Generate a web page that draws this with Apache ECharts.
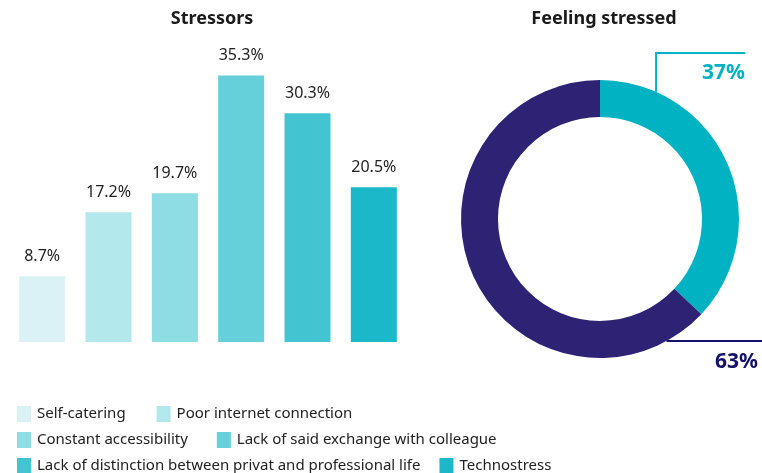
<!DOCTYPE html>
<html>
<head>
<meta charset="utf-8">
<script src="https://cdn.jsdelivr.net/npm/echarts@6/dist/echarts.min.js"></script>
<style>
  html, body { margin: 0; padding: 0; background: #ffffff; }
  #chart { width: 762px; height: 473px; }
</style>
</head>
<body>
<div id="chart"></div>
<script>
// Stressors (share of respondents, %)
const stressorNames = [
  'Self-catering',
  'Poor internet connection',
  'Constant accessibility',
  'Lack of said exchange with colleague',
  'Lack of distinction between privat and professional life',
  'Technostress'
];
const stressorValues = [8.7, 17.2, 19.7, 35.3, 30.3, 20.5];
const stressorColors = ['#daf2f5', '#b3e8ec', '#8fdde4', '#66d0da', '#42c5d1', '#1ab8c8'];

// Feeling stressed (%)
const stressedNames = ['Stressed', 'Not stressed'];
const stressedValues = [37, 63];
const stressedColors = ['#00b2c2', '#2e2275'];
const stressedLabelColors = ['#00b2c2', '#15106b'];

const FONT = 'Noto Sans';
const pieCenter = [600, 219];
const pieRadius = [102, 139];

// one series per stressor, stacked so every bar sits centred in its own slot
const barSeries = stressorNames.map((name, i) => ({
  name: name,
  type: 'bar',
  stack: 'stressors',
  barWidth: 46,
  data: stressorNames.map((_, j) => (j === i ? stressorValues[i] : '-')),
  itemStyle: { color: stressorColors[i] },
  label: {
    show: true,
    position: 'top',
    distance: 12,
    formatter: '{c}%',
    color: '#222222',
    fontFamily: FONT,
    fontSize: 16
  }
}));

// point on the outer rim of the donut at a clockwise angle (deg) from 12 o'clock
function rimPoint(deg) {
  const r = pieRadius[1];
  const a = deg * Math.PI / 180;
  return [pieCenter[0] + r * Math.sin(a), pieCenter[1] - r * Math.cos(a)];
}

// legend laid out as three rows of two entries
function legendRow(names, top, gap) {
  return {
    data: names,
    left: 12,
    top: top,
    orient: 'horizontal',
    itemWidth: 14,
    itemHeight: 16,
    itemGap: gap,
    icon: 'rect',
    selectedMode: false,
    textStyle: { color: '#222222', fontFamily: FONT, fontSize: 15, padding: [0, 0, 0, 1] }
  };
}

const chart = echarts.init(document.getElementById('chart'));
chart.setOption({
  animation: false,
  title: [
    { text: 'Stressors', left: 207, top: 5, textAlign: 'center',
      textStyle: { fontFamily: FONT, fontWeight: 'bold', fontSize: 18, color: '#1a1a1a' } },
    { text: 'Feeling stressed', left: 599, top: 5, textAlign: 'center',
      textStyle: { fontFamily: FONT, fontWeight: 'bold', fontSize: 18, color: '#1a1a1a' } }
  ],
  legend: [
    legendRow(stressorNames.slice(0, 2), 401, 31),
    legendRow(stressorNames.slice(2, 4), 427, 29),
    legendRow(stressorNames.slice(4, 6), 453, 19)
  ],
  grid: { left: 9, right: 355, top: 40, bottom: 131, containLabel: false },
  xAxis: {
    type: 'category',
    data: stressorNames,
    axisLine: { show: false },
    axisTick: { show: false },
    axisLabel: { show: false }
  },
  yAxis: {
    type: 'value',
    min: 0,
    max: 40,
    interval: 10,
    show: false,
    splitLine: { show: false }
  },
  series: barSeries.concat([{
    name: 'Feeling stressed',
    type: 'pie',
    center: pieCenter,
    radius: pieRadius,
    startAngle: 90,
    clockwise: true,
    silent: true,
    avoidLabelOverlap: false,
    minShowLabelAngle: 0,
    data: stressedValues.map((v, i) => ({
      name: stressedNames[i],
      value: v,
      itemStyle: { color: stressedColors[i] },
      label: { color: stressedLabelColors[i] },
      labelLine: { lineStyle: { color: stressedLabelColors[i], width: 2 } }
    })),
    label: {
      show: true,
      position: 'outside',
      formatter: '{c}%',
      fontFamily: FONT,
      fontWeight: 'bold',
      fontSize: 21
    },
    labelLine: { show: true, smooth: false },
    labelLayout: function (p) {
      if (p.dataIndex === 0) {
        const a = rimPoint(23.8);
        const topY = 53, endX = 745;
        return {
          x: endX, y: 73, align: 'right', verticalAlign: 'middle', hideOverlap: false,
          labelLinePoints: [a, [a[0], topY], [endX, topY]]
        };
      }
      const b = rimPoint(151.4);
      return {
        x: 758, y: 362, align: 'right', verticalAlign: 'middle', hideOverlap: false,
        labelLinePoints: [b, [b[0] + 30, b[1]], [762, b[1]]]
      };
    }
  }])
});
</script>
</body>
</html>
